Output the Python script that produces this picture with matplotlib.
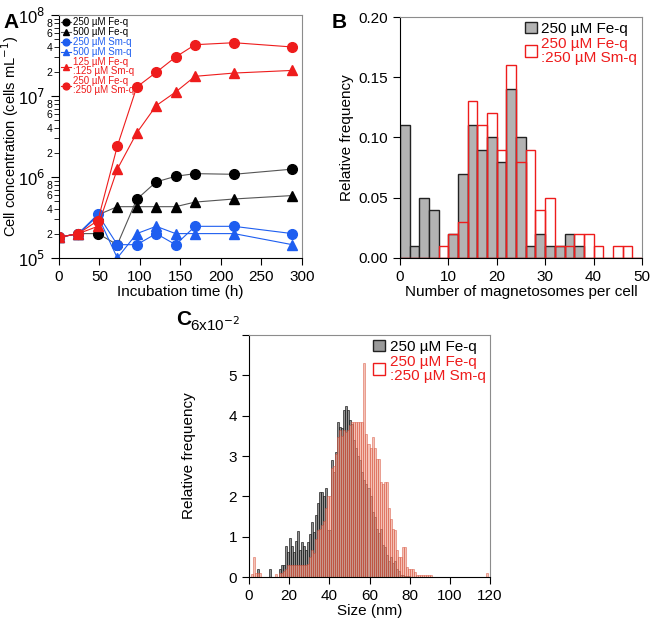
import numpy as np
import matplotlib
matplotlib.use('Agg')
import matplotlib.pyplot as plt
from matplotlib.patches import Patch
from matplotlib.ticker import LogLocator, FixedLocator, FuncFormatter

plt.rcParams['font.family'] = ['Liberation Sans', 'DejaVu Sans']

# ---- panel A: growth curves ----
time_h = [0, 24, 48, 72, 96, 120, 144, 168, 216, 288]
fe250 = [1.8e5, 2.0e5, 2.0e5, 1.46e5, 5.3e5, 8.7e5, 1.02e6, 1.1e6, 1.08e6, 1.25e6]
fe500 = [1.8e5, 2.0e5, 3.4e5, 4.3e5, 4.3e5, 4.3e5, 4.3e5, 4.9e5, 5.35e5, 5.9e5]
sm250 = [1.8e5, 2.0e5, 3.46e5, 1.46e5, 1.46e5, 2.0e5, 1.46e5, 2.46e5, 2.46e5, 2.0e5]
sm500 = [1.8e5, 2.0e5, 3.3e5, 1.0e5, 2.0e5, 2.46e5, 2.0e5, 2.0e5, 2.0e5, 1.46e5]
fesm125 = [1.8e5, 2.0e5, 2.46e5, 1.25e6, 3.5e6, 7.6e6, 1.12e7, 1.75e7, 1.92e7, 2.07e7]
fesm250 = [1.8e5, 2.0e5, 2.9e5, 2.4e6, 1.29e7, 1.96e7, 3.03e7, 4.3e7, 4.55e7, 4.03e7]

# ---- panel B: magnetosomes per cell (bin width 2) ----
mag_edges = list(range(0, 50, 2))
mag_fe = [0.11, 0.01, 0.05, 0.04, 0.0, 0.02, 0.07, 0.11, 0.09, 0.10, 0.08, 0.14, 0.10,
          0.01, 0.02, 0.01, 0.01, 0.02, 0.01, 0.0, 0.0, 0.0, 0.0, 0.0, 0.0]
mag_fesm = [0.0, 0.0, 0.0, 0.0, 0.01, 0.02, 0.03, 0.13, 0.11, 0.12, 0.09, 0.16, 0.08,
            0.09, 0.04, 0.05, 0.01, 0.01, 0.02, 0.02, 0.01, 0.0, 0.01, 0.01, 0.0]

# ---- panel C: size distribution (bin width 1 nm, units of 1e-2) ----
size_edges = list(range(0, 120))
size_fe = [0, 0, 0, 0, 0.19, 0, 0, 0, 0, 0, 0.19, 0, 0, 0, 0, 0.19, 0.3, 0.3, 0.77, 0.62,
           0.96, 0.78, 0.62, 0.9, 1.15, 0.67, 0.86, 0.78, 0.67, 0.86, 1.07, 1.36, 1.12, 1.54, 1.83, 2.12,
           2.12, 2.0, 2.2, 1.17, 1.17, 2.9, 2.6, 3.1, 3.84, 3.73, 3.7, 4.14, 4.24, 4.14, 3.9, 3.8,
           3.4, 3.2, 3.0, 2.9, 2.6, 2.4, 2.3, 2.2, 2.0, 1.6, 1.5, 1.2, 1.1, 1.2, 0.8, 0.75, 0.55, 0.4,
           0.5, 0.35, 0.4, 0.2, 0.15, 0.05, 0.05, 0.02, 0.02, 0.02] + [0] * 40
size_fesm = [0, 0.07, 0.5, 0.1, 0.1, 0.1, 0, 0, 0, 0, 0, 0, 0, 0.08, 0, 0.1, 0.1, 0.15, 0.2, 0.3,
             0.31, 0.31, 0.31, 0.31, 0.31, 0.31, 0.31, 0.31, 0.31, 0.33, 0.5, 0.66, 0.6, 0.95, 1.16, 1.2,
             1.3, 1.4, 1.7, 2.0, 2.0, 2.7, 2.75, 3.06, 3.47, 3.64, 3.5, 3.64, 3.6, 3.64, 3.76, 3.84,
             3.84, 3.84, 3.84, 3.84, 3.84, 5.3, 3.55, 3.3, 3.2, 3.47, 3.2, 2.93, 2.93, 2.36, 2.3, 2.36, 2.36,
             1.7, 1.45, 1.2, 1.16, 0.66, 0.5, 0.5, 0.74, 0.74, 0.25, 0.2, 0.2, 0.2, 0.12,
             0.05, 0.05, 0.05, 0.05, 0.05, 0.05, 0.05, 0.05] + [0] * 27 + [0.1, 0]

black = '#000000'
blue = '#1e5ef0'
red = '#ee1c1c'
frame_grey = '#8c8c8c'


def style_axes(ax):
    ax.spines['top'].set_color(frame_grey)
    ax.spines['right'].set_color(frame_grey)
    ax.tick_params(direction='out', labelsize=11, length=5, width=0.8)


fig = plt.figure(figsize=(6.51, 6.23), dpi=100)

# ---------------- A ----------------
axA = fig.add_axes([0.0906, 0.5859, 0.3733, 0.39])
series = [
    (fe250, 'o', black, '250 µM Fe-q'),
    (fe500, '^', black, '500 µM Fe-q'),
    (sm250, 'o', blue, '250 µM Sm-q'),
    (sm500, '^', blue, '500 µM Sm-q'),
    (fesm125, '^', red, '125 µM Fe-q\n:125 µM Sm-q'),
    (fesm250, 'o', red, '250 µM Fe-q\n:250 µM Sm-q'),
]
for vals, mk, col, lab in series:
    lcol = '#555555' if col == black else col
    axA.plot(time_h, vals, marker=mk, color=lcol, mfc=col, mec=col,
             ms=7 if mk == 'o' else 6.5, lw=0.8, label=lab)
axA.set_yscale('log')
axA.set_ylim(1e5, 1e8)
axA.set_xlim(0, 300)
axA.set_xticks([0, 50, 100, 150, 200, 250, 300])
axA.yaxis.set_major_locator(FixedLocator([1e5, 1e6, 1e7, 1e8]))
axA.yaxis.set_major_formatter(FuncFormatter(lambda v, p: r'10$^{%d}$' % round(np.log10(v))))
axA.yaxis.set_minor_locator(LogLocator(base=10, subs=range(2, 10)))


def minor_fmt(v, p):
    m = int(round(v / 10 ** np.floor(np.log10(v) + 1e-9)))
    return str(m) if m in (2, 4, 6, 8) else ''


axA.yaxis.set_minor_formatter(FuncFormatter(minor_fmt))
style_axes(axA)
axA.tick_params(axis='y', which='major', labelsize=12, length=6, pad=4)
axA.tick_params(axis='y', which='minor', labelsize=7.5, length=3.5, direction='out', pad=1)
axA.set_xlabel('Incubation time (h)', fontsize=11, labelpad=1)
axA.set_ylabel('Cell concentration (cells mL$^{-1}$)', fontsize=10.5)
axA.yaxis.set_label_coords(-0.157, 0.5)
legA = axA.legend(loc='upper left', fontsize=7, frameon=False, handlelength=1.0,
                  handletextpad=0.2, labelspacing=0.0, borderaxespad=0.1, borderpad=0.1,
                  markerscale=0.7)
for txt, (_, _, col, _) in zip(legA.get_texts(), series):
    txt.set_color(col)
    txt.set_linespacing(0.9)
fig.text(0.005, 0.955, 'A', fontsize=15, fontweight='bold')

# ---------------- B ----------------
axB = fig.add_axes([0.6144, 0.5859, 0.3717, 0.3868])
axB.bar(mag_edges, mag_fe, width=2, align='edge', color='#b3b3b3', edgecolor='#222222', lw=1.0)
axB.bar(mag_edges, mag_fesm, width=2, align='edge', facecolor='none', edgecolor=red, lw=1.0)
axB.set_xlim(0, 50)
axB.set_ylim(0, 0.20)
axB.set_xticks([0, 10, 20, 30, 40, 50])
axB.set_yticks([0, 0.05, 0.10, 0.15, 0.20])
axB.set_yticklabels(['0.00', '0.05', '0.10', '0.15', '0.20'])
style_axes(axB)
axB.set_xlabel('Number of magnetosomes per cell', fontsize=11, labelpad=1)
axB.set_ylabel('Relative frequency', fontsize=11, labelpad=3)
hB = [Patch(facecolor='#b3b3b3', edgecolor='#222222'),
      Patch(facecolor='white', edgecolor=red)]
legB = axB.legend(hB, ['250 µM Fe-q', '250 µM Fe-q\n:250 µM Sm-q'], loc='upper right',
                  fontsize=11, frameon=False, handlelength=0.8, handleheight=0.8,
                  handletextpad=0.3, labelspacing=0.1, borderaxespad=0.2, borderpad=0.1)
legB.get_texts()[1].set_color(red)
for t in legB.get_texts():
    t.set_linespacing(0.95)
fig.text(0.51, 0.955, 'B', fontsize=15, fontweight='bold')

# ---------------- C ----------------
axC = fig.add_axes([0.3825, 0.0738, 0.3702, 0.3885])
axC.bar(size_edges, np.array(size_fe) / 100, width=1, align='edge', color='#707070',
        alpha=0.75, edgecolor='#111111', lw=0.6)
axC.bar(size_edges, np.array(size_fesm) / 100, width=1, align='edge', color='#ee9a86',
        alpha=0.6, edgecolor='#d4442e', lw=0.5)
axC.set_xlim(0, 120)
axC.set_ylim(0, 0.06)
axC.set_xticks([0, 20, 40, 60, 80, 100, 120])
axC.set_yticks([0, 0.01, 0.02, 0.03, 0.04, 0.05, 0.06])
axC.set_yticklabels(['0', '1', '2', '3', '4', '5', ''])
style_axes(axC)
axC.set_xlabel('Size (nm)', fontsize=11, labelpad=1)
axC.set_ylabel('Relative frequency', fontsize=11)
axC.yaxis.set_label_coords(-0.22, 0.5)
axC.text(-0.04, 1.005, '6x10$^{-2}$', transform=axC.transAxes, ha='right', va='bottom', fontsize=11)
hC = [Patch(facecolor='#9a9a9a', edgecolor='#222222'),
      Patch(facecolor='white', edgecolor=red)]
legC = axC.legend(hC, ['250 µM Fe-q', '250 µM Fe-q\n:250 µM Sm-q'], loc='upper right',
                  fontsize=11, frameon=False, handlelength=0.8, handleheight=0.8,
                  handletextpad=0.3, labelspacing=0.1, borderaxespad=0.2, borderpad=0.1)
legC.get_texts()[1].set_color(red)
for t in legC.get_texts():
    t.set_linespacing(0.95)
fig.text(0.27, 0.478, 'C', fontsize=15, fontweight='bold')

fig.savefig('out.png', dpi=100)
